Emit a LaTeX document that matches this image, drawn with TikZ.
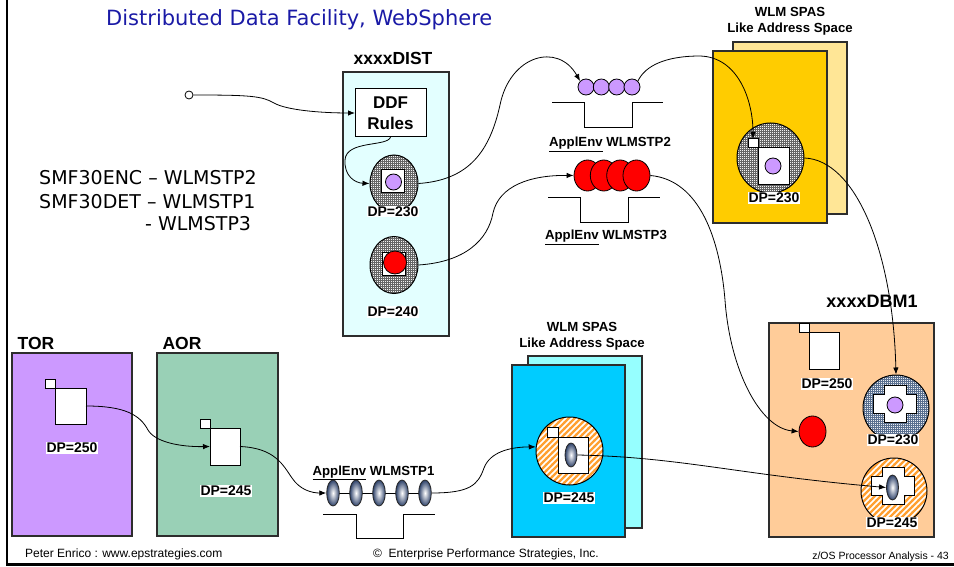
\documentclass[tikz,border=0pt]{standalone}
\usepackage{fontspec}
\setmainfont{Liberation Sans}
\newfontfamily\widesans{DejaVu Sans}
\usetikzlibrary{shapes.geometric,arrows.meta,patterns}

\definecolor{lilac}{RGB}{204,153,255}
\definecolor{distcyan}{RGB}{227,255,255}
\definecolor{gold}{RGB}{255,204,0}
\definecolor{paleyellow}{RGB}{255,230,150}
\definecolor{skyblue}{RGB}{0,204,255}
\definecolor{palecyan}{RGB}{150,255,255}
\definecolor{peach}{RGB}{255,204,153}
\definecolor{aorgreen}{RGB}{153,208,182}
\definecolor{dotgray}{RGB}{102,102,102}
\definecolor{dotblue}{RGB}{90,112,144}
\definecolor{stripeorange}{RGB}{255,160,50}
\definecolor{eggblue}{RGB}{45,65,105}
\definecolor{titleblue}{RGB}{26,26,166}
\definecolor{edge}{RGB}{45,45,45}

% diagonal stripes for the orange work units
\pgfdeclarepatternformonly{wide stripes}{\pgfpoint{-1pt}{-1pt}}{\pgfpoint{7pt}{7pt}}{\pgfpoint{6pt}{6pt}}{%
  \pgfsetlinewidth{2.4pt}%
  \pgfpathmoveto{\pgfpoint{-1pt}{-1pt}}%
  \pgfpathlineto{\pgfpoint{7pt}{7pt}}%
  \pgfusepath{stroke}}

% fine light specks for the enclave units
\pgfdeclarepatternformonly{fine specks}{\pgfpointorigin}{\pgfpoint{2.4pt}{2.4pt}}{\pgfpoint{2.4pt}{2.4pt}}{%
  \pgfpathrectangle{\pgfpointorigin}{\pgfpoint{1.1pt}{1.1pt}}%
  \pgfusepath{fill}}

% white notched cross around a work unit
\newcommand\notchedcross[2]{%
  \begin{scope}[shift={(#1,#2)}]
    \draw[fill=white, line width=1pt] (-11,-18.5) -- (11,-18.5) -- (11,-9.5) -- (21.5,-9.5)
      -- (21.5,9.5) -- (11,9.5) -- (11,18.5) -- (-11,18.5) -- (-11,9.5) -- (-21.5,9.5)
      -- (-21.5,-9.5) -- (-11,-9.5) -- cycle;
  \end{scope}}

\begin{document}
\begin{tikzpicture}[x=1pt,y=-1pt,
  lbl/.style={font=\fontsize{14}{16}\selectfont\bfseries, fill=white, inner sep=1pt},
  head/.style={font=\fontsize{17.5}{20}\selectfont\bfseries, inner sep=0pt},
  sub/.style={font=\fontsize{13.2}{16}\selectfont\bfseries, align=center, inner sep=0pt},
  space/.style={rectangle, draw=edge, line width=1.1pt, inner sep=0pt, outer sep=0pt, anchor=north west},
  whitebox/.style={rectangle, draw=black, line width=1pt, fill=white, inner sep=0pt, outer sep=0pt},
  dotted unit/.style={ellipse, draw=black, line width=1pt, inner sep=0pt,
    preaction={fill=dotgray}, pattern=fine specks, pattern color=white!90!gray},
  blue unit/.style={circle, draw=black, line width=1pt, inner sep=0pt,
    preaction={fill=dotblue}, pattern=fine specks, pattern color=white!88!dotblue},
  striped unit/.style={ellipse, draw=black, line width=1pt, inner sep=0pt,
    preaction={fill=white}, pattern=wide stripes, pattern color=stripeorange},
  lilacball/.style={circle, draw=black, line width=0.8pt, fill=lilac, minimum size=16pt, inner sep=0pt},
  redball/.style={ellipse, draw=black, line width=0.8pt, fill=red, inner sep=0pt},
  blueegg/.style={ellipse, draw=black!85, line width=0.8pt, inner sep=0pt,
    inner color=white, outer color=eggblue},
  conn/.style={line width=0.8pt, -{Latex[length=7pt,width=5.5pt]}},
  trough/.style={line width=1pt},
  plaintext/.style={inner sep=0pt, font=\widesans\fontsize{19}{23}\selectfont},
  foot/.style={inner sep=0pt, font=\fontsize{12}{14}\selectfont},
]
\useasboundingbox (0,0) rectangle (954,567);

% slide frame
\draw[line width=2pt] (7,0) -- (7,565);
\draw[line width=2.6pt] (6,564.5) -- (954,564.5);

% title line
\node[inner sep=0pt, anchor=base west, text=titleblue, font=\widesans\fontsize{21}{25}\selectfont] (title) at (106,26) {Distributed Data Facility, WebSphere};

% SMF record legend
\node[plaintext, anchor=base west] (smfa) at (39,185) {SMF30ENC – WLMSTP2};
\node[plaintext, anchor=base west] (smfb) at (39,208) {SMF30DET – WLMSTP1};
\node[plaintext, anchor=base west] (smfc) at (145,230) {- WLMSTP3};

% incoming request
\node[circle, draw=black, line width=0.8pt, fill=white, minimum size=8pt, inner sep=0pt] (src) at (189,95) {};

% ---------------- xxxxDIST ----------------
\node[head] (distlbl) at (393,58) {xxxxDIST};
\node[space, fill=distcyan, minimum width=106pt, minimum height=264pt] (dist) at (343,72) {};
\node[whitebox, minimum width=71pt, minimum height=48pt, align=center,
      font=\fontsize{17}{21.5}\selectfont\bfseries] (ddf) at (390.5,113) {DDF\\Rules};

\node[dotted unit, minimum width=48pt, minimum height=57pt] (e1) at (394,183.5) {};
\node[whitebox, minimum size=23pt] (s1) at (393,181.5) {};
\node[lilacball] (p1) at (393.5,182) {};
\node[lbl] (dp1) at (393,211.5) {DP=230};

\node[dotted unit, minimum width=48pt, minimum height=57pt] (e2) at (394,265) {};
\node[whitebox, minimum size=23pt] (s2) at (393.5,263.5) {};
\node[circle, draw=black, line width=0.8pt, fill=red, minimum size=23pt, inner sep=0pt] (r1) at (395,262.5) {};
\node[lbl] (dp2) at (393,312) {DP=240};

% ---------------- application environment queues ----------------
\foreach \i/\x in {a/586,b/601.3,c/616.7,d/632}
  \node[lilacball] (q2\i) at (\x,87) {};
\draw[trough] (552,103) -- (584,103) -- (584,128) -- (632,128) -- (632,103) -- (663,103);
\node[sub, anchor=base] (q2lbl) at (610,147) {\underline{ApplEnv} WLMSTP2};

\foreach \i/\x in {a/587.5,b/603.8,c/620.2,d/636.5}
  \node[redball, minimum width=27pt, minimum height=31pt] (q3\i) at (\x,175.5) {};
\draw[trough] (548,198) -- (580,198) -- (580,223) -- (628,223) -- (628,198) -- (660,198);
\node[sub, anchor=base] (q3lbl) at (606,240) {\underline{ApplEnv} WLMSTP3};

\draw[line width=0.8pt] (333,493) -- (425,493);
\foreach \i/\x in {a/333,b/356,c/379,d/402,e/425}
  \node[blueegg, minimum width=12.6pt, minimum height=26pt] (q1\i) at (\x,493) {};
\draw[trough] (323,514) -- (356,514) -- (356,538) -- (403,538) -- (403,514) -- (435,514);
\node[sub, anchor=base] (q1lbl) at (373.5,475) {\underline{ApplEnv} WLMSTP1};

% ---------------- WLM SPAS (upper) ----------------
\node[sub] (sp1lbl) at (790,21) {WLM SPAS\\Like Address Space};
\node[space, fill=paleyellow, minimum width=114pt, minimum height=172pt] (sp1b) at (733,42) {};
\node[space, fill=gold, minimum width=114pt, minimum height=172pt] (sp1f) at (713,51) {};
\node[dotted unit, minimum width=67pt, minimum height=70pt] (sp1e) at (770.5,158) {};
\node[whitebox, minimum width=31pt, minimum height=37pt] (ib1) at (773.5,166.5) {};
\node[whitebox, minimum width=10pt, minimum height=9pt] (sq1) at (753,143.5) {};
\node[lilacball] (p2) at (773,166) {};
\node[lbl] (dp3) at (774,198) {DP=230};

% ---------------- WLM SPAS (lower) ----------------
\node[sub] (sp2lbl) at (582,336) {WLM SPAS\\Like Address Space};
\node[space, fill=palecyan, minimum width=114pt, minimum height=172pt] (sp2b) at (528,356) {};
\node[space, fill=skyblue, minimum width=113pt, minimum height=172pt] (sp2f) at (512,365) {};
\node[striped unit, minimum width=67pt, minimum height=68pt] (oc1) at (569.5,451) {};
\node[whitebox, minimum width=30pt, minimum height=36pt] (ib2) at (573,455) {};
\node[whitebox, minimum width=11pt, minimum height=10pt] (sq2) at (552.5,432) {};
\node[blueegg, minimum width=12pt, minimum height=24pt] (be1) at (571,455) {};
\node[lbl] (dp4) at (569,498) {DP=245};

% ---------------- xxxxDBM1 ----------------
\node[head, font=\fontsize{18}{20}\selectfont\bfseries] (dbmlbl) at (872,301) {xxxxDBM1};
\node[space, fill=peach, minimum width=165pt, minimum height=214pt] (dbm) at (769,323) {};
\node[whitebox, minimum width=10pt, minimum height=9pt] (sq3) at (804,327.5) {};
\node[whitebox, minimum width=30pt, minimum height=37pt] (ib3) at (824,350.5) {};
\node[lbl] (dp5) at (827,384) {DP=250};
\node[redball, minimum width=27pt, minimum height=31pt] (redb) at (812.5,431.5) {};

\node[blue unit, minimum size=66pt] (bc) at (896,408) {};
\notchedcross{895}{403.5}
\node[lilacball] (p3) at (895,405) {};
\node[lbl] (dp6) at (893,440) {DP=230};

\node[striped unit, minimum width=66pt, minimum height=66pt] (oc2) at (894,491) {};
\notchedcross{893}{486}
\node[blueegg, minimum width=12pt, minimum height=25pt] (be2) at (892.5,487.5) {};
\node[lbl] (dp7) at (892,523) {DP=245};

% ---------------- CICS regions ----------------
\node[head] (torlbl) at (36,343) {TOR};
\node[space, fill=lilac, minimum width=120pt, minimum height=183pt] (tor) at (12,353) {};
\node[whitebox, minimum width=10pt, minimum height=9pt] (tsq) at (50,383.5) {};
\node[whitebox, minimum width=31pt, minimum height=36pt] (tb) at (70.5,406) {};
\node[lbl] (dp8) at (72,448) {DP=250};

\node[head] (aorlbl) at (182,343) {AOR};
\node[space, fill=aorgreen, minimum width=121pt, minimum height=183pt] (aor) at (157,353) {};
\node[whitebox, minimum width=10pt, minimum height=9pt] (asq) at (205,423.5) {};
\node[whitebox, minimum width=30pt, minimum height=37pt] (ab) at (225,446.5) {};
\node[lbl] (dp9) at (226,491) {DP=245};

% ---------------- flows ----------------
\draw[conn] (src.east) .. controls (250,95) and (262,96) .. (274,103)
  .. controls (286,110) and (320,113) .. (ddf.west);
\draw[conn] (ddf.south) .. controls (388,147) and (346,140) .. (345,160)
  .. controls (344,176) and (355,183) .. (e1.west);
\draw[conn] (e1.east) .. controls (470,180) and (490,150) .. (500,105)
  .. controls (510,55) and (558,42) .. (q2a.135);
\draw[conn] (e2.east) .. controls (465,262) and (488,240) .. (493,213)
  .. controls (499,186) and (530,175) .. (q3a.west);
\draw[conn] (q2d.45) .. controls (645,66) and (665,56) .. (700,56)
  .. controls (738,57) and (753,100) .. (sq1.north);
\draw[conn] (q3d.east) .. controls (700,180) and (720,240) .. (725,300)
  .. controls (730,370) and (760,428) .. (redb.west);
\draw[conn] (sp1e.east) .. controls (855,160) and (893,250) .. (bc.north);
\draw[conn] (tb.east) .. controls (125,406) and (140,415) .. (148,430)
  .. controls (155,442) and (180,447) .. (ab.west);
\draw[conn] (ab.east) .. controls (275,448) and (283,465) .. (292,478)
  .. controls (300,490) and (312,493) .. (q1a.west);
\draw[conn] (q1e.east) .. controls (470,493) and (478,485) .. (484,468)
  .. controls (490,452) and (510,447) .. (oc1.173);
\draw[conn] (be1.east) .. controls (680,457) and (740,475) .. (be2.west);

% footer
\node[foot, anchor=base west] (footl) at (25,557) {Peter Enrico : www.epstrategies.com};
\node[foot, anchor=base west] (footc) at (373,557) {©\ \ Enterprise Performance Strategies, Inc.};
\node[inner sep=0pt, anchor=base east, font=\fontsize{10.5}{12}\selectfont] (footr) at (949,559) {z/OS Processor Analysis - 43};
\end{tikzpicture}
\end{document}
